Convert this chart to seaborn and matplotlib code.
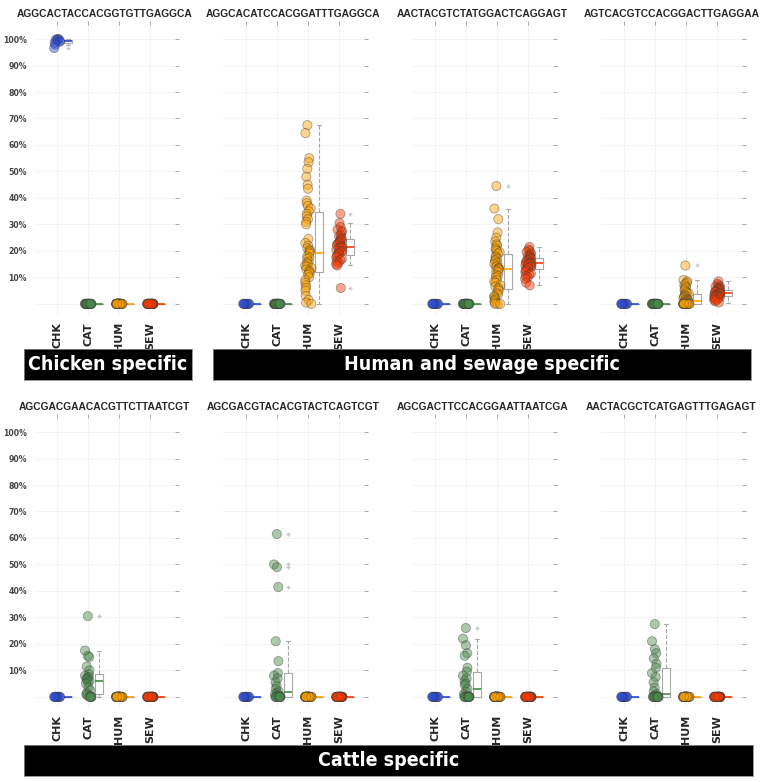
import numpy as np
import pandas as pd
import matplotlib
matplotlib.use("Agg")
import matplotlib.pyplot as plt
import seaborn as sns

# sample groups and their colours
groups = ["CHK", "CAT", "HUM", "SEW"]
group_colors = ["#2a4bd7", "#4a8a4a", "#ffa200", "#ff3a00"]
group_sizes = [9, 25, 50, 38]   # samples per group

probes = [
    "AGGCACTACCACGGTGTTGAGGCA", "AGGCACATCCACGGATTTGAGGCA",
    "AACTACGTCTATGGACTCAGGAGT", "AGTCACGTCCACGGACTTGAGGAA",
    "AGCGACGAACACGTTCTTAATCGT", "AGCGACGTACACGTACTCAGTCGT",
    "AGCGACTTCCACGGAATTAATCGA", "AACTACGCTCATGAGTTTGAGAGT",
]

# % of samples' reads matching the probe (groups not listed are all 0)
chk_p1 = [100, 100, 99.8, 99.6, 99.3, 99.0, 98.6, 97.9, 96.6]

hum_p2 = [67.5, 64.5, 55, 53.5, 51, 48, 45, 43.5, 39, 38,
          37, 36, 35, 34, 33, 32, 31, 30, 24.5, 23,
          22, 21, 20.5, 20, 19.5, 19, 18, 17.5, 17, 16,
          15.5, 15, 14.5, 14, 13.5, 13, 12.5, 12, 11.5, 11,
          10, 9, 8, 7, 6, 5, 3, 1.5, 0.5, 0]
sew_p2 = [34, 30.5, 29, 28, 27.5, 27, 26, 25.5, 25, 24.5,
          24, 24, 23.5, 23, 23, 22.5, 22, 22, 21.5, 21.5,
          21, 21, 20.5, 20, 20, 19.5, 19, 19, 18.5, 18,
          17.5, 17, 16.5, 16, 15.5, 15, 14.5, 6]

hum_p3 = [44.5, 36, 32, 27, 25, 23.5, 22.5, 22, 21, 20.5,
          20, 19.5, 19, 18, 17.5, 17, 16.5, 16, 15.5, 15,
          14.5, 14, 13.5, 13.5, 13, 13, 12.5, 12, 11, 10.5,
          10, 9, 8.5, 8, 7, 6.5, 6, 5.5, 5, 4,
          3.5, 3, 2.5, 2, 1.5, 1, 0.5, 0, 0, 0]
sew_p3 = [21.5, 20.5, 20, 19.5, 19, 18.5, 18, 18, 17.5, 17.5,
          17, 17, 16.5, 16.5, 16, 16, 15.5, 15.5, 15.5, 15,
          15, 15, 14.5, 14.5, 14, 14, 13.5, 13.5, 13, 12.5,
          12, 11.5, 11, 10.5, 10, 9.5, 8, 7]

hum_p4 = [14.5, 9, 8.5, 8, 7.5, 7, 6.5, 6, 5.5, 5,
          4.5, 4, 4, 3.5, 3, 3, 2.5, 2.5, 2, 2,
          2, 1.5, 1.5, 1.5, 1, 1, 1, 0.5, 0.5, 0.5,
          0.5, 0, 0, 0, 0, 0, 0, 0, 0, 0,
          0, 0, 0, 0, 0, 0, 0, 0, 0, 0]
sew_p4 = [8.5, 7.5, 7, 6.5, 6.5, 6, 6, 5.5, 5.5, 5.5,
          5, 5, 5, 4.5, 4.5, 4.5, 4.5, 4, 4, 4,
          4, 3.5, 3.5, 3.5, 3.5, 3, 3, 3, 3, 2.5,
          2.5, 2.5, 2, 2, 1.5, 1.5, 1, 0.5]

cat_p5 = [30.5, 17.5, 15.5, 15, 11.5, 10, 8.5, 8, 7.5, 7,
          7, 6.5, 6, 5.5, 5, 3.5, 2.5, 1.5, 1, 0.5, 0, 0, 0, 0, 0]
cat_p6 = [61.5, 50, 49, 41.5, 21, 13.5, 9, 8, 7, 5.5,
          4, 3, 2, 1.5, 1, 0.5, 0.5, 0, 0, 0, 0, 0, 0, 0, 0]
cat_p7 = [26, 22, 19.5, 16.5, 15.5, 11, 9.5, 8, 7, 6,
          5, 4.5, 3, 2, 1, 0.5, 0, 0, 0, 0, 0, 0, 0, 0, 0]
cat_p8 = [27.5, 21, 18, 16.5, 14.5, 12.5, 11, 9, 7.5, 5.5,
          3.5, 2, 1, 0.5, 0, 0, 0, 0, 0, 0, 0, 0, 0, 0, 0]

panel_values = [
    {"CHK": chk_p1},
    {"HUM": hum_p2, "SEW": sew_p2},
    {"HUM": hum_p3, "SEW": sew_p3},
    {"HUM": hum_p4, "SEW": sew_p4},
    {"CAT": cat_p5},
    {"CAT": cat_p6},
    {"CAT": cat_p7},
    {"CAT": cat_p8},
]

banner_labels = ["Chicken specific", "Human and sewage specific", "Cattle specific"]

W, H = 764, 782


def px_rect(x0, y0, x1, y1):
    # pixel box (top-left origin) -> figure fraction rect
    return [x0 / W, 1 - y1 / H, (x1 - x0) / W, (y1 - y0) / H]


def draw_panel(ax, values, title, first_col):
    rows = []
    for i, g in enumerate(groups):
        vals = values.get(g, [0.0] * group_sizes[i])
        for v in vals:
            rows.append((g, i, v))
    df = pd.DataFrame(rows, columns=["group", "pos", "pct"])

    np.random.seed(3)
    sns.stripplot(data=df, x="pos", y="pct", hue="group", hue_order=groups,
                  palette=group_colors, native_scale=True, orient="v",
                  jitter=0.11, size=6.6, alpha=0.45, edgecolor="#3a3a3a",
                  linewidth=0.6, legend=False, ax=ax, zorder=3)

    for i, g in enumerate(groups):
        sub = df[df["group"] == g]
        sns.boxplot(x=sub["pos"] + 0.35, y=sub["pct"], native_scale=True, orient="v",
                    width=0.24, fill=False, color="#a8a8a8", linewidth=0.8,
                    medianprops=dict(color=group_colors[i], linewidth=1.2),
                    whiskerprops=dict(linestyle="--", color="#a8a8a8"),
                    capprops=dict(color="#a8a8a8"),
                    flierprops=dict(marker="+", markersize=2.5, markeredgecolor="#c8c8c8"),
                    ax=ax)

    ax.set_xlim(-0.75, 3.8)
    ax.set_ylim(-4.2, 105.3)
    ax.set_xticks(range(len(groups)))
    ax.set_xticklabels(groups, rotation=90, fontsize=8, fontweight="bold")
    yt = list(range(0, 101, 10))
    ax.set_yticks(yt)
    if first_col:
        ax.set_yticklabels([""] + [f"{v}%" for v in yt[1:]], fontsize=5.6,
                           fontweight="bold", color="#444444")
    else:
        ax.set_yticklabels([])
    ax.tick_params(top=True, right=True, length=3, width=0.6, color="#999999", pad=2)
    ax.grid(True, color="#f1f1f1", linewidth=0.6)
    ax.set_axisbelow(True)
    for s in ax.spines.values():
        s.set_visible(False)
    ax.set_xlabel("")
    ax.set_ylabel("")
    ax.set_title(title, fontsize=7.4, fontweight="bold", family="Liberation Sans", pad=6)


def add_banner(fig, text, x0, y0, x1, y1):
    bax = fig.add_axes(px_rect(x0, y0, x1, y1))
    bax.set_facecolor("black")
    bax.set_xticks([])
    bax.set_yticks([])
    for s in bax.spines.values():
        s.set_color("#888888")
        s.set_linewidth(0.6)
    bax.text(0.5, 0.5, text, color="white", fontsize=14, fontweight="bold",
             fontstretch="condensed", ha="center", va="center", transform=bax.transAxes)


def make_figure(out_path="out.png"):
    sns.set_style("white")
    plt.rcParams["font.family"] = ["DejaVu Sans"]
    fig = plt.figure(figsize=(W / 100, H / 100), dpi=100)

    col_left = [34, 223, 412, 601]
    row_top = [(25, 315), (418, 708)]
    for k, (vals, title) in enumerate(zip(panel_values, probes)):
        r, c = divmod(k, 4)
        y0, y1 = row_top[r]
        ax = fig.add_axes(px_rect(col_left[c], y0, col_left[c] + 141, y1))
        draw_panel(ax, vals, title, c == 0)

    add_banner(fig, banner_labels[0], 24, 349, 192, 380)
    add_banner(fig, banner_labels[1], 213, 349, 751, 380)
    add_banner(fig, banner_labels[2], 24, 745, 753, 776)

    fig.savefig(out_path, dpi=100)
    plt.close(fig)


if __name__ == "__main__":
    make_figure()
